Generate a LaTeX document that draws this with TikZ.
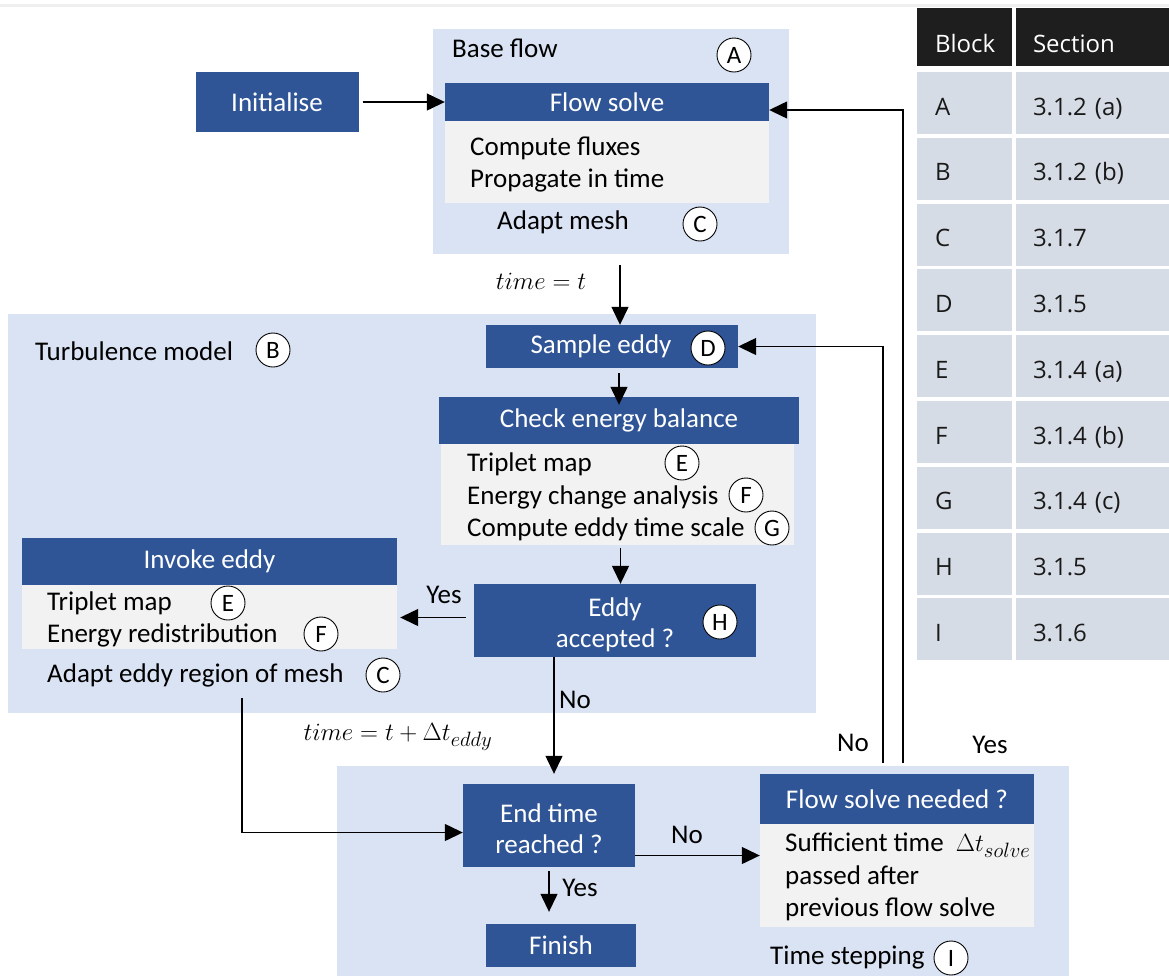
\documentclass[tikz,border=0pt]{standalone}
\usepackage{fontspec}
\setmainfont{Carlito}
\newfontfamily\tablefont{Open Sans}
\usetikzlibrary{arrows.meta}
\definecolor{dblue}{HTML}{2F5597}
\definecolor{lblue}{HTML}{DAE3F3}
\definecolor{lgray}{HTML}{F2F2F2}
\definecolor{cellc}{HTML}{D6DCE5}
\definecolor{headc}{HTML}{1E1E1E}
\definecolor{topline}{HTML}{EFEFEF}
\begin{document}
\begin{tikzpicture}[x=1pt,y=-1pt,
  region/.style={fill=lblue, draw=none, inner sep=0, anchor=north west},
  hdr/.style={fill=dblue, text=white, inner sep=0, font=\fontsize{27}{32}\selectfont},
  hdrtxt/.style={text=white, inner sep=0, align=center, font=\fontsize{27}{31}\selectfont},
  bodybox/.style={fill=lgray, inner sep=0},
  txt/.style={font=\fontsize{27}{32}\selectfont, inner sep=0, anchor=west},
  lbl/.style={font=\fontsize{27}{32}\selectfont, inner sep=0},
  mlbl/.style={font=\fontsize{31}{34}\selectfont, inner sep=0},
  tag/.style={circle, draw=black, fill=white, line width=0.9pt, minimum size=34pt, inner sep=0, font=\fontsize{25}{26}\selectfont},
  arr/.style={-{Triangle[length=18pt,width=17pt]}, line width=1.3pt},
  thead/.style={fill=headc, text=white, inner ysep=0, align=left, minimum height=58pt, text height=30pt, text depth=0pt, font=\tablefont\fontsize{24}{28}\selectfont},
  tcell/.style={fill=cellc, text=black!90, inner ysep=0, align=left, minimum height=62pt, text height=24pt, text depth=0pt, font=\tablefont\fontsize{24}{28}\selectfont}
]
\useasboundingbox (0,0) rectangle (1169,975);
\fill[white] (0,0) rectangle (1169,975);
\draw[topline, line width=3pt] (0,5) -- (1169,5);

% ---------- regions ----------
\node[region, minimum width=356pt, minimum height=225pt] (basereg) at (433,29) {};
\node[region, minimum width=808pt, minimum height=399pt] (turbreg) at (8,314) {};
\node[region, minimum width=732pt, minimum height=212pt] (timereg) at (337,766) {};

% ---------- base flow ----------
\node[txt] (basettl) at (452,48) {Base flow};
\node[tag] (tagA) at (734,55) {A};
\node[fill=dblue, text=white, inner sep=0, minimum width=163pt, minimum height=60pt, font=\fontsize{27}{32}\selectfont] (init) at (277,102) {Initialise};
\node[hdr, minimum width=324pt, minimum height=38pt] (flowsolve) at (607,102) {Flow solve};
\node[bodybox, minimum width=324pt, minimum height=82pt] (flowbody) at (607,162) {};
\node[txt] (cf) at (470,148) {Compute fluxes};
\node[txt] (pt) at (470,180) {Propagate in time};
\node[txt] (am) at (497,222) {Adapt mesh};
\node[tag] (tagC1) at (700,224) {C};

% ---------- turbulence model ----------
\node[txt] (turbttl) at (35,351) {Turbulence model};
\node[tag] (tagB) at (273,350) {B};
\node[hdr, minimum width=252pt, minimum height=43pt] (sample) at (612,346.5) {Sample eddy\hspace*{22pt}};
\node[tag] (tagD) at (708,348) {D};
\node[hdr, minimum width=360pt, minimum height=47pt] (check) at (619,420.5) {Check energy balance};
\node[bodybox, minimum width=353pt, minimum height=101pt] (checkbody) at (617.5,494.5) {};
\node[txt] (tm1) at (467,464) {Triplet map};
\node[tag] (tagE1) at (682,463) {E};
\node[txt] (eca) at (467,497) {Energy change analysis};
\node[tag] (tagF1) at (746,495) {F};
\node[txt] (cets) at (467,529) {Compute eddy time scale};
\node[tag] (tagG) at (772,528) {G};

\node[hdr, minimum width=282pt, minimum height=73pt,
  label={[hdrtxt, yshift=-4pt]center:Eddy\\accepted ?}] (accepted) at (615,620.5) {};
\node[tag] (tagH) at (720,622) {H};

\node[hdr, minimum width=375pt, minimum height=47pt] (invoke) at (209.5,561.5) {Invoke eddy};
\node[bodybox, minimum width=375pt, minimum height=64pt] (invbody) at (209.5,617) {};
\node[txt] (tm2) at (47,603) {Triplet map};
\node[tag] (tagE2) at (228,603) {E};
\node[txt] (er) at (47,635) {Energy redistribution};
\node[tag] (tagF2) at (321,634) {F};
\node[txt] (aer) at (47,675) {Adapt eddy region of mesh};
\node[tag] (tagC2) at (383,675) {C};

% ---------- time stepping ----------
\node[hdr, minimum width=172pt, minimum height=83pt,
  label={[hdrtxt, yshift=-3pt]center:End time\\reached ?}] (endtime) at (549,825.5) {};
\node[hdr, minimum width=150pt, minimum height=43pt] (finish) at (561,945.5) {Finish};
\node[hdr, minimum width=274pt, minimum height=50pt] (fsn) at (897,799) {Flow solve needed ?};
\node[bodybox, minimum width=274pt, minimum height=103pt] (fsnbody) at (897,875.5) {};
\node[txt] (suf) at (785,845) {Sufficient time\ \ {\fontsize{31}{34}\selectfont$\Delta t_{solve}$}};
\node[txt] (pa) at (785,877) {passed after};
\node[txt] (pfs) at (785,909) {previous flow solve};
\node[txt] (tsttl) at (770,958) {Time stepping};
\node[tag] (tagI) at (951,958) {I};

% ---------- labels ----------
\node[mlbl] (tlab1) at (541,281) {$time = t$};
\node[mlbl] (tlab2) at (398,737) {$time = t + \Delta t_{eddy}$};
\node[lbl] (yes1) at (444,595) {Yes};
\node[lbl] (no1) at (575,700) {No};
\node[lbl] (no2) at (687,835) {No};
\node[lbl] (yes2) at (580,888) {Yes};
\node[lbl] (no3) at (853,743) {No};
\node[lbl] (yes3) at (990,745) {Yes};

% ---------- connectors ----------
\coordinate (tstart) at (620,265);
\coordinate (adaptstart) at (242,698);
\coordinate (nostart) at (883,763);
\coordinate (yesstart) at (903,763);

\draw[arr] ([xshift=4pt]init.east) -- (flowsolve.west);
\draw[arr] (yesstart) |- ([yshift=-8pt]flowsolve.east);
\draw[arr] (nostart) |- (sample.east);
\draw[arr] (tstart) -- (tstart |- sample.north);
\draw[arr] ([yshift=-5pt]sample.south -| check.north) -- ([yshift=-8pt]check.north);
\draw[arr] ([yshift=-3pt,xshift=3pt]checkbody.south) -- ([xshift=3pt]checkbody.south |- accepted.north);
\draw[arr] ([xshift=-8pt,yshift=3pt]accepted.west) -- ([xshift=3pt,yshift=3pt]accepted.west -| invbody.east);
\draw[arr] ([xshift=5pt]endtime.north |- accepted.south) -- ([xshift=5pt,yshift=10pt]endtime.north);
\draw[arr] (adaptstart) |- ([yshift=-7pt]endtime.west);
\draw[arr] ([yshift=-4pt]endtime.south) -- ([yshift=12pt]endtime.south |- finish.north);
\draw[arr] ([yshift=-30pt]endtime.east) -- ([yshift=-30pt]endtime.east -| fsnbody.west);

% ---------- table ----------
\node[thead, minimum width=95pt, text width=59pt, inner xsep=18pt] (hblock) at (964.5,37) {Block};
\node[thead, minimum width=153pt, text width=119pt, inner xsep=17pt] (hsec) at (1092.5,37) {Section};
\foreach \l/\s [count=\i from 0] in {A/{3.1.2 (a)},B/{3.1.2 (b)},C/{3.1.7},D/{3.1.5},E/{3.1.4 (a)},F/{3.1.4 (b)},G/{3.1.4 (c)},H/{3.1.5},I/{3.1.6}}{
  \pgfmathsetmacro\yc{103+65.8*\i}
  \node[tcell, minimum width=95pt, text width=59pt, inner xsep=18pt] (cb\i) at (964.5,\yc) {\l};
  \node[tcell, minimum width=153pt, text width=119pt, inner xsep=17pt] (cs\i) at (1092.5,\yc) {\s};
}
\end{tikzpicture}
\end{document}
